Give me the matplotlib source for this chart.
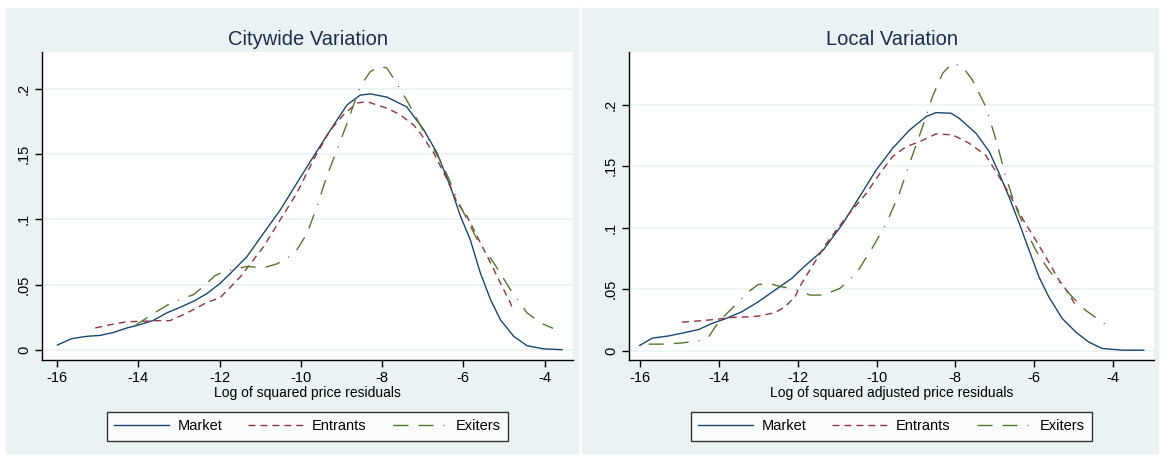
import numpy as np
import matplotlib.pyplot as plt
from matplotlib.patches import Rectangle
from matplotlib.lines import Line2D

# values, panel 1 (citywide)
city_mkt_x = [-15.99, -15.64, -15.27, -14.94, -14.61, -14.28, -13.96, -13.63, -13.30, -12.97, -12.64,
              -12.31, -11.99, -11.66, -11.33, -10.92, -10.51, -10.10, -9.69, -9.28, -8.86, -8.54, -8.29,
              -7.88, -7.39, -6.98, -6.65, -6.32, -6.07, -5.83, -5.58, -5.33, -5.09, -4.76, -4.43,
              -4.02, -3.57]
city_mkt_y = [0.004, 0.0088, 0.0106, 0.0113, 0.0136, 0.017, 0.0195, 0.0228, 0.0285, 0.0328, 0.0374,
              0.0433, 0.051, 0.061, 0.0714, 0.0893, 0.107, 0.1276, 0.148, 0.168, 0.1876, 0.195, 0.196,
              0.1935, 0.186, 0.1688, 0.151, 0.1254, 0.1024, 0.0846, 0.059, 0.0387, 0.0234, 0.0106, 0.0034,
              0.001, 0.0004]
city_ent_x = [-15.06, -14.69, -14.28, -13.96, -13.54, -13.22, -12.89, -12.56, -12.31, -11.99, -11.49,
              -10.92, -10.51, -10.10, -9.69, -9.28, -8.95, -8.62, -8.37, -7.88, -7.55, -7.22, -7.06,
              -6.73, -6.40, -6.15, -5.91, -5.66, -5.33, -5.09, -4.84, -4.79]
city_ent_y = [0.017, 0.0195, 0.0218, 0.022, 0.0226, 0.0226, 0.0272, 0.0323, 0.0366, 0.040, 0.056,
              0.079, 0.0995, 0.12, 0.1455, 0.168, 0.18, 0.189, 0.190, 0.185, 0.18, 0.172, 0.166,
              0.151, 0.1306, 0.1127, 0.1024, 0.0871, 0.0668, 0.0515, 0.0361, 0.0318]
city_exi_x = [-14.08, -13.79, -13.54, -13.22, -12.97, -12.64, -12.40, -12.11, -11.90, -11.33, -10.92,
              -10.59, -10.34, -10.10, -9.85, -9.60, -9.36, -9.11, -8.86, -8.54, -8.29, -8.04, -7.88,
              -7.64, -7.39, -7.06, -6.49, -6.07, -5.66, -5.25, -4.84, -4.43, -4.06, -3.79]
city_exi_y = [0.0188, 0.0247, 0.0297, 0.0356, 0.0387, 0.0425, 0.0487, 0.057, 0.06, 0.064, 0.063,
              0.066, 0.070, 0.0766, 0.089, 0.11, 0.133, 0.153, 0.1736, 0.2016, 0.213, 0.217, 0.2157,
              0.204, 0.191, 0.172, 0.1407, 0.110, 0.0846, 0.0668, 0.0463, 0.0285, 0.0203, 0.0167]

# panel 2 (local)
loc_mkt_x = [-16.01, -15.69, -15.27, -14.85, -14.51, -14.18, -13.84, -13.42, -13.00, -12.58, -12.15,
             -11.82, -11.35, -10.85, -10.43, -10.01, -9.59, -9.16, -8.74, -8.49, -8.11, -7.90, -7.48,
             -7.14, -6.89, -6.64, -6.38, -6.13, -5.88, -5.63, -5.29, -4.95, -4.62, -4.28, -3.77, -3.22]
loc_mkt_y = [0.0043, 0.0103, 0.0121, 0.0149, 0.0173, 0.0222, 0.026, 0.0317, 0.0398, 0.0493, 0.0589,
             0.0689, 0.082, 0.1037, 0.1253, 0.147, 0.1647, 0.1796, 0.1905, 0.1937, 0.1932, 0.189, 0.177,
             0.162, 0.1444, 0.1253, 0.1037, 0.0819, 0.0602, 0.0439, 0.0263, 0.0154, 0.0072, 0.0019,
             0.0005, 0.0005]
loc_ent_x = [-14.93, -14.51, -14.09, -13.67, -13.25, -13.00, -12.58, -12.32, -12.07, -11.90, -11.27,
             -10.76, -10.26, -9.92, -9.59, -9.25, -8.91, -8.49, -8.07, -7.65, -7.23, -6.89, -6.64,
             -6.30, -5.96, -5.71, -5.37, -5.12, -4.97]
loc_ent_y = [0.0233, 0.0243, 0.0255, 0.0271, 0.0276, 0.0282, 0.0309, 0.0358, 0.0439, 0.0548, 0.0874,
             0.109, 0.128, 0.144, 0.158, 0.166, 0.170, 0.1764, 0.1756, 0.1688, 0.159, 0.1416, 0.128,
             0.1077, 0.090, 0.0765, 0.0575, 0.0467, 0.038]
loc_exi_x = [-15.78, -15.36, -14.93, -14.51, -14.26, -14.09, -13.84, -13.50, -13.25, -13.00, -12.66,
             -12.41, -12.15, -11.99, -11.69, -11.35, -10.93, -10.51, -10.09, -9.75, -9.42, -9.16, -8.83,
             -8.58, -8.32, -8.07, -7.82, -7.57, -7.23, -7.02, -6.89, -6.72, -6.47, -6.21, -5.96, -5.63,
             -5.20, -4.70, -4.28, -4.01]
loc_exi_y = [0.0054, 0.0054, 0.0064, 0.0081, 0.0113, 0.0195, 0.029, 0.0398, 0.048, 0.054, 0.0542,
             0.052, 0.0507, 0.0493, 0.0453, 0.0453, 0.0507, 0.063, 0.0846, 0.1037, 0.128, 0.1525, 0.1823,
             0.2068, 0.2258, 0.234, 0.231, 0.2204, 0.1986, 0.177, 0.162, 0.1416, 0.117, 0.098, 0.0819,
             0.0656, 0.0493, 0.033, 0.0235, 0.0173]

titles = ["Citywide Variation", "Local Variation"]
xlabels = ["Log of squared price residuals", "Log of squared adjusted price residuals"]
series_names = ["Market", "Entrants", "Exiters"]
xticks = [-16, -14, -12, -10, -8, -6, -4]
yticks = [0, 0.05, 0.1, 0.15, 0.2]
ytick_labels = ["0", ".05", ".1", ".15", ".2"]

navy = "#1a476f"
maroon = "#90353b"
green = "#55752f"
bg = "#eaf2f3"
styles = [dict(color=navy, ls="-"),
          dict(color=maroon, ls=(0, (5.0, 3.6))),
          dict(color=green, ls=(0, (10.8, 7.2, 10.8, 7.2, 0.8, 7.2)))]

plt.rcParams['font.family'] = ['Liberation Sans', 'DejaVu Sans']

fig = plt.figure(figsize=(11.62, 4.55), dpi=100)
W, H = 1162, 455
fig.patches.append(Rectangle((6 / W, 2 / H), 572 / W, 445 / H, transform=fig.transFigure,
                             color=bg, zorder=-5))
fig.patches.append(Rectangle((582 / W, 2 / H), 576 / W, 445 / H, transform=fig.transFigure,
                             color=bg, zorder=-5))

panels = [
    ([city_mkt_x, city_ent_x, city_exi_x], [city_mkt_y, city_ent_y, city_exi_y],
     (42, 573), (-16.37, -3.3), (-0.0075, 0.228)),
    ([loc_mkt_x, loc_ent_x, loc_exi_x], [loc_mkt_y, loc_ent_y, loc_exi_y],
     (629, 1154), (-16.28, -2.96), (-0.0075, 0.243)),
]

for i, (xs, ys, (px0, px1), xlim, ylim) in enumerate(panels):
    ax = fig.add_axes([px0 / W, 1 - 360 / H, (px1 - px0) / W, 308 / H])
    ax.set_zorder(1)
    ax.set_facecolor("white")
    for x, y, st in zip(xs, ys, styles):
        ax.plot(x, y, lw=1.0, **st)
    ax.set_xlim(*xlim)
    ax.set_ylim(*ylim)
    ax.set_xticks(xticks)
    ax.set_xticklabels([str(t) for t in xticks], fontsize=10.5)
    ax.set_yticks(yticks)
    ax.set_yticklabels(ytick_labels, fontsize=10.5, rotation=90, va="center")
    ax.grid(axis="y", color=bg, lw=1.2)
    ax.set_axisbelow(True)
    for s in ["top", "right"]:
        ax.spines[s].set_visible(False)
    ax.spines["left"].set_linewidth(1.0)
    ax.spines["bottom"].set_linewidth(1.0)
    ax.tick_params(length=5, width=1, pad=3)
    ax.set_title(titles[i], fontsize=14.5, color="#1e2d4a", pad=5)
    ax.set_xlabel(xlabels[i], fontsize=10, labelpad=1)
    handles = [Line2D([], [], lw=1.0, **st) for st in styles]
    leg = ax.legend(handles, series_names, ncol=3, loc="upper center",
                    bbox_to_anchor=(0.5, -0.169), borderaxespad=0, frameon=True, fancybox=False,
                    fontsize=10.5, handlelength=3.8, handletextpad=0.55, columnspacing=1.8,
                    borderpad=0.5)
    leg.get_frame().set_edgecolor("black")
    leg.get_frame().set_linewidth(1.0)

fig.savefig("out.png", dpi=100, facecolor="white")
